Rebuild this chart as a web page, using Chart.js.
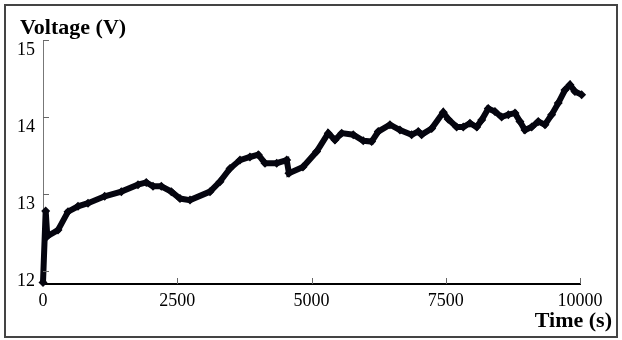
<!DOCTYPE html>
<html>
<head>
<meta charset="utf-8">
<script src="https://cdn.jsdelivr.net/npm/chart.js@4/dist/chart.umd.min.js"></script>
<style>
  html, body { margin: 0; padding: 0; background: #fff; }
  #wrap { width: 622px; height: 340px; }
</style>
</head>
<body>
<div id="wrap"><canvas id="voltChart" width="622" height="340"></canvas></div>
<script>
// Data
const timeSec = [0, 50, 80, 279, 466, 652, 838, 1149, 1458, 1769, 1923, 2048, 2203, 2389, 2551,
  2737, 3110, 3296, 3482, 3668, 3854, 4009, 4134, 4352, 4538, 4580, 4841, 5096, 5312, 5437,
  5562, 5778, 5964, 6120, 6243, 6461, 6647, 6865, 6988, 7051, 7238, 7454, 7547, 7703, 7826,
  7951, 8076, 8169, 8292, 8416, 8541, 8665, 8789, 8882, 8975, 9100, 9223, 9347, 9472, 9595,
  9720, 9813, 9906, 10030];
const voltage = [11.85, 12.78, 12.45, 12.53, 12.77, 12.84, 12.88, 12.97, 13.03, 13.12, 13.15, 13.10, 13.10, 13.03, 12.94,
  12.92, 13.03, 13.16, 13.33, 13.44, 13.48, 13.51, 13.40, 13.40, 13.44, 13.27, 13.35, 13.55, 13.79, 13.70,
  13.79, 13.77, 13.69, 13.68, 13.81, 13.90, 13.83, 13.77, 13.81, 13.77, 13.85, 14.06, 13.97, 13.87, 13.87,
  13.92, 13.87, 13.96, 14.11, 14.07, 14.00, 14.03, 14.05, 13.94, 13.83, 13.87, 13.94, 13.90, 14.03, 14.18,
  14.35, 14.42, 14.33, 14.29];
const xTicks = [0, 2500, 5000, 7500, 10000];
const yTicks = [12, 13, 14, 15];

const serif = '"Liberation Serif", "Times New Roman", serif';

// plugin: bingkai, tick ke dalam, judul sumbu
const decor = {
  id: 'decor',
  beforeDraw(chart) {
    const c = chart.ctx;
    c.save();
    c.fillStyle = '#fff';
    c.fillRect(0, 0, chart.width, chart.height);
    c.restore();
  },
  afterDraw(chart) {
    const c = chart.ctx;
    const a = chart.chartArea;
    const xs = chart.scales.x, ys = chart.scales.y;
    c.save();
    c.strokeStyle = '#666';
    c.lineWidth = 1;
    ys.ticks.forEach(t => {
      const py = Math.round(ys.getPixelForValue(t.value)) + 0.5;
      c.beginPath(); c.moveTo(a.left, py); c.lineTo(a.left + 6, py); c.stroke();
    });
    xs.ticks.forEach(t => {
      if (t.value === 0) return;
      const px = Math.round(xs.getPixelForValue(t.value)) + 0.5;
      c.beginPath(); c.moveTo(px, a.bottom); c.lineTo(px, a.bottom - 6); c.stroke();
    });
    // bingkai luar
    c.strokeStyle = '#444';
    c.lineWidth = 2;
    c.strokeRect(5, 5, 612, 332);
    // judul
    c.fillStyle = '#000';
    c.font = 'bold 22px ' + serif;
    c.textBaseline = 'alphabetic';
    c.textAlign = 'left';
    c.fillText('Voltage (V)', 20, 34);
    c.textAlign = 'right';
    c.fillText('Time (s)', 612, 327);
    c.restore();
  }
};

const ctx = document.getElementById('voltChart').getContext('2d');
const voltChart = new Chart(ctx, {
  type: 'line',
  data: {
    datasets: [{
      data: timeSec.map((t, i) => ({ x: t, y: voltage[i] })),
      borderColor: '#05050f',
      backgroundColor: '#05050f',
      borderWidth: 6,
      pointStyle: 'rectRot',
      pointRadius: 4.5,
      pointBorderWidth: 0,
      tension: 0,
      clip: false
    }]
  },
  options: {
    responsive: false,
    devicePixelRatio: 1,
    animation: false,
    layout: { padding: { top: 40, right: 42, left: 0, bottom: 0 } },
    plugins: {
      legend: { display: false },
      tooltip: { enabled: false }
    },
    scales: {
      x: {
        type: 'linear',
        min: 0,
        max: 10000,
        afterBuildTicks: s => { s.ticks = xTicks.map(v => ({ value: v })); },
        afterFit: s => { s.height = 56; },
        grid: { display: true, drawOnChartArea: false, drawTicks: false },
        border: { display: true, color: '#000', width: 2 },
        ticks: {
          color: '#000',
          font: { family: serif, size: 18 },
          padding: 6,
          maxRotation: 0,
          autoSkip: false,
          callback: v => String(v)
        }
      },
      y: {
        min: 11.83,
        max: 15,
        afterBuildTicks: s => { s.ticks = yTicks.map(v => ({ value: v })); },
        afterFit: s => { s.width = 43; },
        grid: { display: true, drawOnChartArea: false, drawTicks: false },
        border: { display: true, color: '#777', width: 1 },
        ticks: {
          color: '#000',
          font: { family: serif, size: 18 },
          padding: 8,
          labelOffset: 10
        }
      }
    }
  },
  plugins: [decor]
});
</script>
</body>
</html>
